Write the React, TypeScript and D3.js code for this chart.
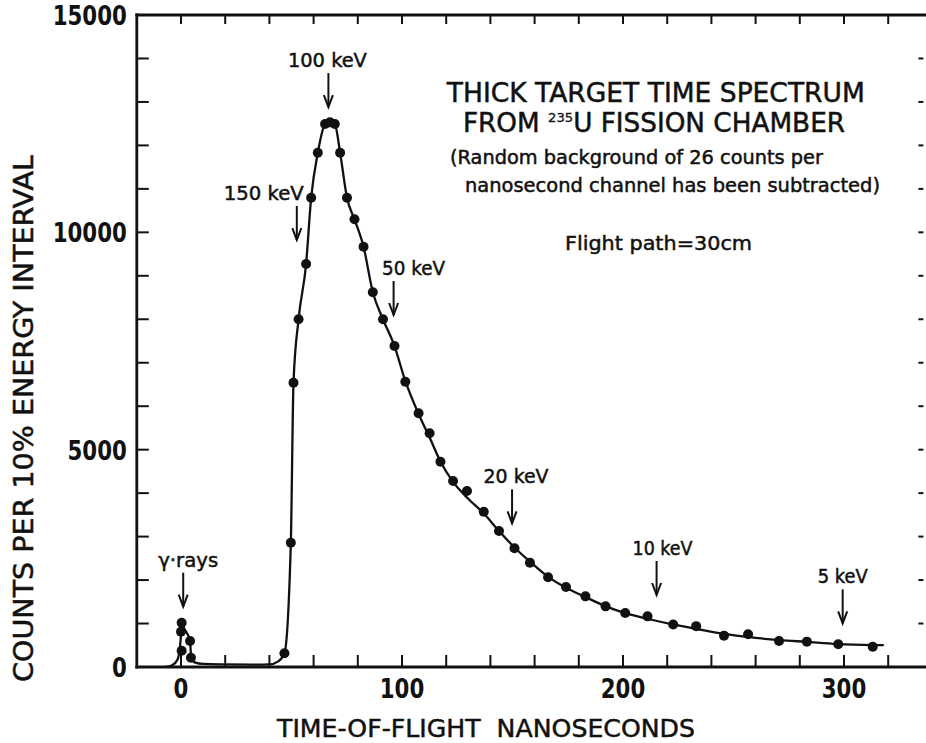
import React from 'react';
import * as d3 from 'd3';

const W = 926;
const H = 743;

// Measured data points: time of flight (ns) and counts per 10% energy interval
const dotTime = [
  0.3, 0.0, 4.1, 0.3, 4.5,
  46.8, 49.7, 50.9, 53.2, 56.6, 58.9, 61.9, 65.2, 67.4, 69.6, 72.0, 75.1, 78.5, 82.6,
  86.8, 91.4, 96.6, 101.5, 107.5, 112.5, 117.4, 123.1, 129.4, 137.0, 143.9, 150.9,
  157.9, 166.1, 174.2, 183.0, 192.1, 201.0, 211.1, 222.7, 233.1, 245.7, 256.6,
  270.6, 283.2, 297.4, 313.0,
];
const dotCounts = [
  1020, 810, 600, 375, 214,
  315, 2860, 6540, 8000, 9271, 10797, 11832, 12491, 12530, 12491, 11832, 10797, 10300, 9670,
  8620, 8000, 7384, 6563, 5836, 5376, 4723, 4279, 4049, 3573, 3129, 2730,
  2400, 2063, 1840, 1625, 1395, 1243, 1165, 978, 940, 721, 752,
  598, 583, 522, 467,
];

// Drawn (fitted) curve
const curveTime = [
  -7, -4, -1.5, -0.2, 0.4, 1.5, 4.1, 4.6, 6.5, 10, 20, 32, 40, 44, 46.8,
  49.7, 50.9, 53.2, 56.6, 58.9, 61.9, 65.2, 67.4, 69.6, 72.0, 75.1, 78.5, 82.6,
  86.8, 91.4, 96.6, 101.5, 107.5, 112.5, 117.4, 123.1, 129.4, 137, 143.9, 150.9,
  158, 166, 174, 183, 192, 201, 211, 223, 233, 246, 257, 271, 283, 297, 313, 318,
];
const curveCounts = [
  0, 40, 180, 600, 1010, 880, 600, 214, 100, 70, 60, 55, 60, 130, 315,
  2860, 6540, 8000, 9271, 10797, 11832, 12491, 12540, 12491, 11832, 10797, 10300, 9670,
  8620, 8000, 7384, 6580, 5820, 5280, 4730, 4260, 3900, 3530, 3130, 2750,
  2420, 2080, 1830, 1610, 1400, 1240, 1110, 975, 880, 760, 685, 620, 578, 528, 505, 503,
];

const xLabelValues = [0, 100, 200, 300];
const xLabelTexts = ['0', '100', '200', '300'];
const yLabelValues = [0, 5000, 10000, 15000];
const yLabelTexts = ['0', '5000', '10000', '15000'];

// Energy markers
const annLabels = ['γ·rays', '150 keV', '100 keV', '50 keV', '20 keV', '10 keV', '5 keV'];
const annTime = [1.0, 52.4, 66.7, 96.2, 149.8, 215.2, 299.4];
const annTipCounts = [1387, 9823, 12882, 8098, 3306, 1656, 1005];

// layout (pixels)
const annTextDx = [5, -33, -1, 20, 4, 6, 0];
const annTextLen = [60, 80, 79, 63, 65, 60, 50];

const xScale = d3.scaleLinear().domain([-20, 340]).range([136.8, 932.4]);
const yScale = d3.scaleLinear().domain([0, 15000]).range([667, 15]);

const FONT = 'DejaVu Sans, Verdana, sans-serif';
const INK = '#111';

export default function App() {
  const x0 = xScale.range()[0];
  const x1 = xScale.range()[1];
  const y0 = yScale.range()[0];
  const y1 = yScale.range()[1];

  const xMinor = d3.range(0, 340, 20);
  const yMinor = d3.range(1000, 15000, 1000);

  const line = d3
    .line<number>()
    .x((i) => xScale(curveTime[i]))
    .y((i) => yScale(curveCounts[i]))
    .curve(d3.curveMonotoneX);
  const curvePath = line(d3.range(curveTime.length)) || '';

  const textInk = { fill: INK, stroke: INK, strokeWidth: 0.5 };

  return (
    <svg
      width={W}
      height={H}
      viewBox={`0 0 ${W} ${H}`}
      style={{ position: 'absolute', left: 0, top: 0, background: '#fff' }}
      fontFamily={FONT}
    >
      <rect x={0} y={0} width={W} height={H} fill="#fff" />
      {/* frame */}
      <g stroke={INK} strokeWidth={2.8} fill="none" strokeLinecap="square">
        <line x1={x0} y1={y0} x2={x1} y2={y0} />
        <line x1={x0} y1={y1} x2={x1} y2={y1} />
        <line x1={x0} y1={y0} x2={x0} y2={y1} />
      </g>
      {/* ticks */}
      <g stroke={INK} strokeWidth={2}>
        {xMinor.map((v) => (
          <line key={'bx' + v} x1={xScale(v)} x2={xScale(v)} y1={y0} y2={y0 - 12} />
        ))}
        {xMinor.map((v) => (
          <line key={'tx' + v} x1={xScale(v)} x2={xScale(v)} y1={y1} y2={y1 + 9} />
        ))}
        {yMinor.map((v) => (
          <line key={'ly' + v} x1={x0} x2={x0 + 12} y1={yScale(v)} y2={yScale(v)} />
        ))}
        {yMinor.map((v) => (
          <line key={'ry' + v} x1={x1 - 14} x2={x1 - 9} y1={yScale(v)} y2={yScale(v)} />
        ))}
      </g>
      {/* tick labels */}
      <g fill={INK} fontSize={26} fontWeight="bold">
        {xLabelValues.map((v, i) => (
          <text
            key={'xl' + v}
            transform={`translate(${xScale(v)},${y0 + 31}) scale(0.82,1)`}
            textAnchor="middle"
          >
            {xLabelTexts[i]}
          </text>
        ))}
        {yLabelValues.map((v, i) => (
          <text
            key={'yl' + v}
            transform={`translate(${x0 - 10},${yScale(v) + 10}) scale(0.82,1)`}
            textAnchor="end"
          >
            {yLabelTexts[i]}
          </text>
        ))}
      </g>
      {/* axis titles */}
      <text
        x={486}
        y={736.5}
        fontSize={25}
        textAnchor="middle"
        textLength={418}
        lengthAdjust="spacingAndGlyphs"
        style={{ whiteSpace: 'pre' }}
        {...textInk}
      >
        {'TIME-OF-FLIGHT  NANOSECONDS'}
      </text>
      <text
        transform="translate(33,418.5) rotate(-90)"
        fontSize={27}
        textAnchor="middle"
        textLength={527}
        lengthAdjust="spacingAndGlyphs"
        {...textInk}
      >
        COUNTS PER 10% ENERGY INTERVAL
      </text>

      {/* curve */}
      <path d={curvePath} fill="none" stroke={INK} strokeWidth={2.3} />
      {/* dots */}
      <g fill={INK}>
        {dotTime.map((t, i) => (
          <circle key={'d' + i} cx={xScale(t)} cy={yScale(dotCounts[i])} r={5} />
        ))}
      </g>

      {/* energy markers */}
      <g stroke={INK} strokeWidth={2} fill="none">
        {annTime.map((t, i) => {
          const ax = xScale(t);
          const ay = yScale(annTipCounts[i]);
          return (
            <g key={'a' + i}>
              <line x1={ax} x2={ax} y1={ay - 34} y2={ay} />
              <polyline points={`${ax - 4.5},${ay - 12} ${ax},${ay} ${ax + 4.5},${ay - 12}`} />
            </g>
          );
        })}
      </g>
      <g {...textInk} fontSize={20}>
        {annTime.map((t, i) => (
          <text
            key={'at' + i}
            x={xScale(t) + annTextDx[i]}
            y={yScale(annTipCounts[i]) - 40}
            textAnchor="middle"
            textLength={annTextLen[i]}
            lengthAdjust="spacingAndGlyphs"
          >
            {annLabels[i]}
          </text>
        ))}
      </g>

      {/* title block */}
      <g {...textInk}>
        <text x={655.8} y={101.5} fontSize={26} textAnchor="middle" textLength={418} lengthAdjust="spacingAndGlyphs">
          THICK TARGET TIME SPECTRUM
        </text>
        <text x={463} y={132} fontSize={26} textLength={382} lengthAdjust="spacingAndGlyphs" style={{ whiteSpace: 'pre' }}>
          <tspan>{'FROM '}</tspan>
          <tspan fontSize={13} dy={-10} strokeWidth={0.3}>235</tspan>
          <tspan dy={10}>U FISSION CHAMBER</tspan>
        </text>
        <text x={450} y={164} fontSize={19} textLength={373} lengthAdjust="spacingAndGlyphs">
          (Random background of 26 counts per
        </text>
        <text x={465} y={192} fontSize={19} textLength={415} lengthAdjust="spacingAndGlyphs">
          nanosecond channel has been subtracted)
        </text>
        <text x={565} y={250} fontSize={20} textLength={187} lengthAdjust="spacingAndGlyphs">
          Flight path=30cm
        </text>
      </g>
    </svg>
  );
}
